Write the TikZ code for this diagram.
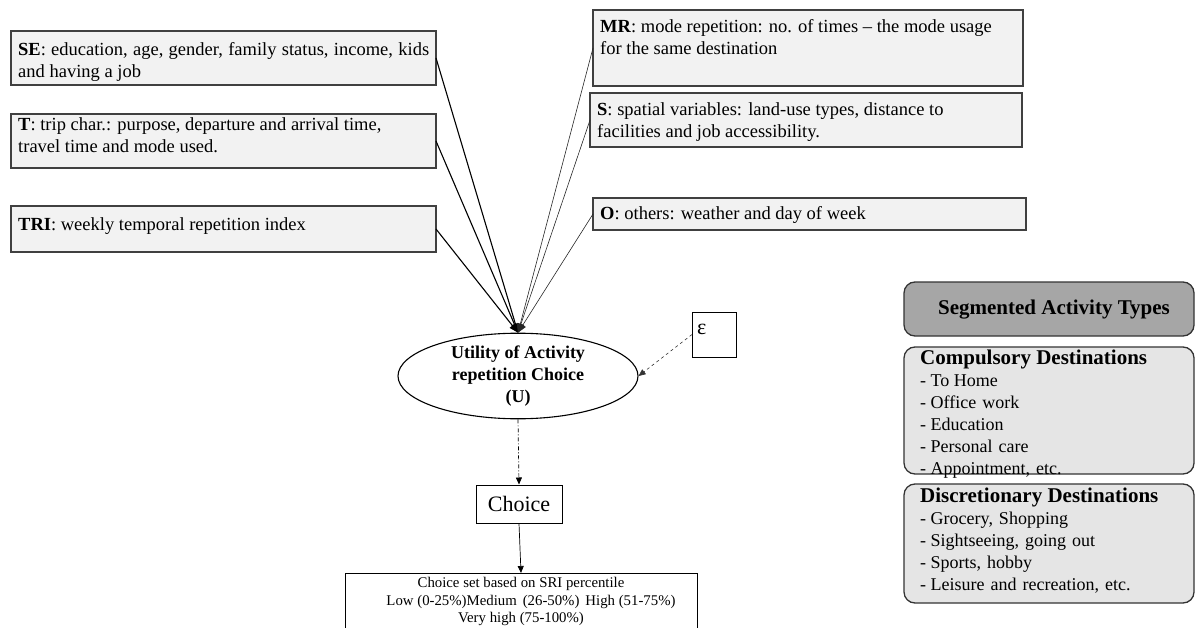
\documentclass[tikz,border=0pt]{standalone}
\usepackage{fontspec}
\setmainfont{Liberation Serif}
\usetikzlibrary{arrows.meta,shapes.geometric}
\begin{document}
\begin{tikzpicture}[x=1pt,y=-1pt,
  varbox/.style={draw=black!75,line width=1.3pt,fill=black!5,inner sep=0pt,outer sep=0pt,anchor=north west},
  vartext/.style={anchor=north west,inner sep=0pt,font=\fontsize{18.5}{22}\selectfont,align=left},
  segbox/.style={draw=black!80,line width=1.3pt,rounded corners=11pt,inner sep=0pt,outer sep=0pt,anchor=north west},
  segtext/.style={anchor=north west,inner sep=0pt,font=\fontsize{18}{22}\selectfont,align=left},
  strong/.style={line width=1.1pt,-{Triangle[length=9pt,width=7pt]}},
  weak/.style={line width=0.6pt,draw=black!85,-{Triangle[length=9pt,width=7pt]}},
  tip/.style={-{Triangle[length=7pt,width=6pt]}},
]
\useasboundingbox (0,0) rectangle (1196,628);
\clip (0,0) rectangle (1196,628);

% left variable boxes
\node[varbox,minimum width=425pt,minimum height=54pt] (se) at (11,31) {};
\node[vartext,text width=411pt,align=justify] (setext) at (18,42) {\textbf{SE}: education, age, gender, family status, income, kids\linebreak and having a job};

\node[varbox,minimum width=425pt,minimum height=54pt] (t) at (11,114) {};
\node[vartext] (ttext) at (18,117) {\textbf{T}: trip char.: purpose, departure and arrival time,\\travel time and mode used.};

\node[varbox,minimum width=425pt,minimum height=46pt] (tri) at (11,206) {};
\node[vartext] (tritext) at (18,217) {\textbf{TRI}: weekly temporal repetition index};

% right variable boxes
\node[varbox,minimum width=430pt,minimum height=76pt] (mr) at (593,10) {};
\node[vartext] (mrtext) at (600,19) {\textbf{MR}: mode repetition: no. of times -- the mode usage\\for the same destination};

\node[varbox,minimum width=432pt,minimum height=54pt] (s) at (590,93) {};
\node[vartext] (stext) at (597,102) {\textbf{S}: spatial variables: land-use types, distance to\\facilities and job accessibility.};

\node[varbox,minimum width=433pt,minimum height=32pt] (o) at (593,198) {};
\node[vartext] (otext) at (600,206) {\textbf{O}: others: weather and day of week};

% utility ellipse
\node[draw,ellipse,line width=1.1pt,fill=white,minimum width=240pt,minimum height=80pt,inner sep=0pt,
      font=\fontsize{18}{22}\selectfont\bfseries,align=center] (u) at (518,376)
      {Utility of Activity\\repetition Choice\\(U)};

% error term
\node[draw,line width=1pt,minimum width=44pt,minimum height=45pt,inner sep=0pt,outer sep=0pt] (eps) at (714,334.5) {};
\node[anchor=base west,inner sep=0pt,font=\fontsize{22}{22}\selectfont] (epstext) at (697,334) {ε};

% choice
\node[draw,line width=1pt,minimum width=86pt,minimum height=38pt,inner sep=0pt,
      font=\fontsize{22}{22}\selectfont] (choice) at (519,504) {Choice};

\node[draw,line width=1pt,minimum width=352pt,minimum height=70pt,inner sep=0pt,anchor=north] (cset) at (521,573) {};
\node[anchor=north,inner sep=0pt,font=\fontsize{14.8}{17.5}\selectfont,align=center] (csettext) at (521,577.5)
  {Choice set based on SRI percentile\\\hspace*{20pt}Low (0-25\%)Medium\hspace{6pt}(26-50\%)\hspace{6pt}High (51-75\%)\\Very high (75-100\%)};

% segmented activity types
\node[segbox,fill=black!35,minimum width=290pt,minimum height=54pt] (seg) at (904,282) {};
\node[inner sep=0pt,font=\fontsize{21}{22}\selectfont\bfseries] (segtitle) at (1054,310) {Segmented Activity Types};

\node[segbox,fill=black!10,minimum width=290pt,minimum height=127pt] (comp) at (904,347) {};
\node[segtext] (comptext) at (920,349.5) {{\fontsize{21}{22}\selectfont\bfseries Compulsory Destinations}\\
  - To Home\\- Office\hspace{6pt}work\\- Education\\- Personal\hspace{6pt}care\\- Appointment,\hspace{6pt}etc.};

\node[segbox,fill=black!10,minimum width=290pt,minimum height=119pt] (disc) at (904,484) {};
\node[segtext] (disctext) at (920,487.5) {{\fontsize{21}{22}\selectfont\bfseries Discretionary Destinations}\\
  - Grocery,\hspace{6pt}Shopping\\- Sightseeing,\hspace{6pt}going\hspace{6pt}out\\- Sports,\hspace{6pt}hobby\\- Leisure\hspace{6pt}and\hspace{6pt}recreation,\hspace{6pt}etc.};

% connectors
\draw[strong] (se.east) -- (u.north);
\draw[strong] (t.east) -- (u.north);
\draw[strong] (tri.east) -- (u.north);
\draw[weak] (mr.west) -- (u.north);
\draw[weak] (s.west) -- (u.north);
\draw[weak] (o.west) -- (u.north);
\draw[tip,line width=0.6pt,dashed,draw=black!80] (eps.west) -- (u.east);
\draw[tip,line width=0.7pt,dash pattern=on 4pt off 2pt on 1pt off 2pt] (u.south) -- (choice.north);
\draw[tip,line width=0.7pt] (choice.south) -- (cset.north);
\end{tikzpicture}
\end{document}
